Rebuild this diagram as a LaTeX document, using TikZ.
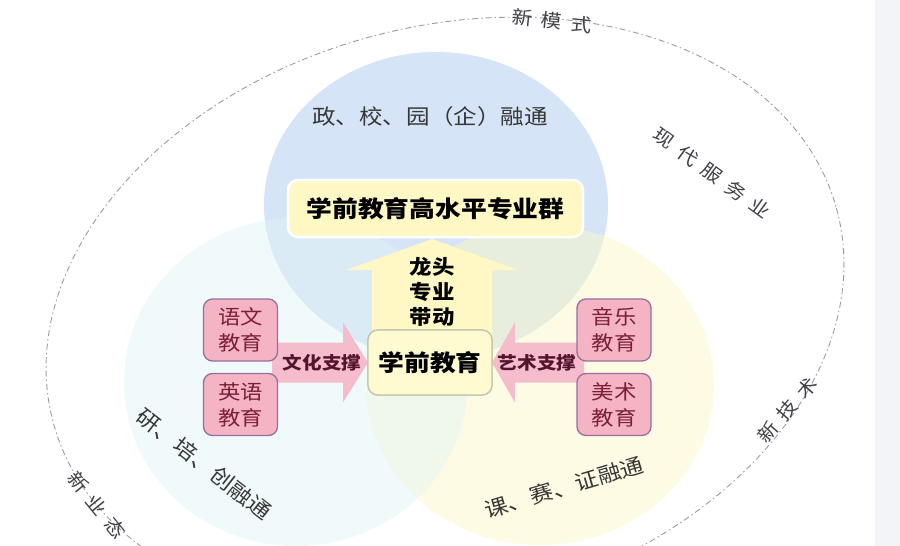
\documentclass[tikz,border=0pt]{standalone}
\usepackage{fontspec}
\setmainfont{Noto Sans CJK SC}[FakeStretch=1.12]
\usetikzlibrary{calc}
\definecolor{blueC}{RGB}{213,228,246}
\definecolor{leftC}{RGB}{226,245,247}
\definecolor{yelC}{RGB}{252,249,200}
\definecolor{ringC}{RGB}{150,156,166}
\definecolor{pinkF}{RGB}{244,180,196}
\definecolor{pinkD}{RGB}{150,110,160}
\definecolor{pinkT}{RGB}{125,30,55}
\definecolor{arrPink}{RGB}{245,188,204}
\definecolor{arrYel}{RGB}{255,248,196}
\definecolor{boxYel}{RGB}{255,248,196}
\definecolor{ctrFill}{RGB}{255,250,208}
\definecolor{ctrLine}{RGB}{190,198,175}
\definecolor{labC}{RGB}{55,55,55}
\definecolor{olabC}{RGB}{65,65,70}
\definecolor{arrT}{RGB}{85,20,45}
\definecolor{stripC}{RGB}{243,244,248}
\newcommand\gp{\hspace{9pt}}
\begin{document}
\begin{tikzpicture}[x=1pt,y=-1pt,
  ringline/.style={draw=ringC, line width=0.9pt, dash pattern=on 6pt off 3pt on 1.5pt off 3pt},
  pinkbox/.style={fill=pinkF, draw=pinkD, line width=1.3pt, rounded corners=9pt,
    minimum width=74pt, minimum height=62pt, inner sep=0pt, outer sep=0pt,
    align=center, text=pinkT, font=\fontsize{20}{26}\selectfont},
  topbox/.style={fill=boxYel, draw=white, line width=2.5pt, rounded corners=10pt,
    minimum width=295pt, minimum height=57pt, inner sep=0pt, outer sep=0pt,
    font=\bfseries\fontsize{23}{23}\selectfont},
  ctrbox/.style={fill=ctrFill, draw=ctrLine, line width=1.3pt, rounded corners=10pt,
    minimum width=124pt, minimum height=65pt, inner sep=0pt, outer sep=0pt,
    font=\bfseries\fontsize{23}{23}\selectfont},
  arrlab/.style={inner sep=0pt, text=arrT, font=\bfseries\fontsize{17.5}{17.5}\selectfont},
  uplab/.style={inner sep=0pt, align=center, font=\bfseries\fontsize{20}{25}\selectfont},
  vlab/.style={inner sep=0pt, text=labC, font=\fontsize{21}{21}\selectfont},
  olab/.style={inner sep=0pt, text=olabC, font=\fontsize{18.5}{18.5}\selectfont}
]
\useasboundingbox (0,0) rectangle (900,546);
\clip (0,0) rectangle (900,546);
\fill[white] (0,0) rectangle (900,546);
\fill[stripC] (875,0) rectangle (900,546);

% Venn circles
\fill[blueC] (436,205) ellipse [x radius=172, y radius=153];
\fill[yelC, fill opacity=0.5] (540,385) ellipse [x radius=174, y radius=160];
\fill[leftC, fill opacity=0.45] (296,382) ellipse [x radius=172, y radius=164];

% outer dashed ring
\draw[ringline, rotate around={15.4:(445,316)}] (445,316) ellipse [x radius=406, y radius=289];

% outer labels
\node[olab, rotate=-6] (o1) at (552,21) {新\gp 模\gp 式};
\node[olab, rotate=-36] (o2) at (712,173) {现\gp 代\gp 服\gp 务\gp 业};
\node[olab, rotate=49] (o3) at (787,410) {新\gp 技\gp 术};
\node[olab, rotate=-51] (o4) at (97,505) {新\gp 业\gp 态};

% venn labels
\node[vlab] (v1) at (430,117) {政、校、园（企）融通};
\node[vlab, rotate=-38] (v2) at (204,464) {研、培、创融通};
\node[vlab, rotate=16.5] (v3) at (564,487) {课、赛、证融通};

% top box and leading arrow
\node[topbox] (top) at (435.5,208.5) {学前教育高水平专业群};
\coordinate (ub) at (432,335);
\fill[arrYel, shift={(ub)}] (-60,0) -- (-60,-65) -- (-86,-65) -- (0,-96) -- (86,-65) -- (60,-65) -- (60,0) -- cycle;

% centre box and side arrows
\node[ctrbox] (ctr) at (430,362.5) {学前教育};
\fill[arrPink, shift={(ctr.west)}] (0,0) -- (-25,-40) -- (-25,-20) -- (-96,-20) -- (-96,20) -- (-25,20) -- (-25,40) -- cycle;
\fill[arrPink, shift={(ctr.east)}] (0,0) -- (23,-40) -- (23,-20) -- (92,-20) -- (92,20) -- (23,20) -- (23,40) -- cycle;
\node[ctrbox] at (ctr) {学前教育};

\node[uplab] (lt) at (432,292) {龙头\\专业\\带动};
\node[arrlab] (wh) at (322,363) {文化支撑};
\node[arrlab] (ys) at (537,363) {艺术支撑};

\node[pinkbox] (yw) at (240.5,330) {语文\\教育};
\node[pinkbox] (yy) at (240.5,404.5) {英语\\教育};
\node[pinkbox] (yl) at (614,330) {音乐\\教育};
\node[pinkbox] (ms) at (614,404.5) {美术\\教育};
\end{tikzpicture}
\end{document}
